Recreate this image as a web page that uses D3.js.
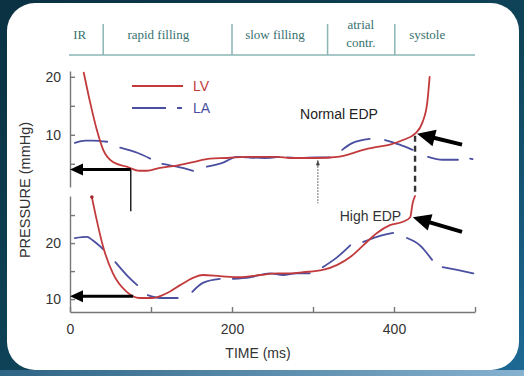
<!DOCTYPE html>
<html>
<head>
<meta charset="utf-8">
<script src="https://cdn.jsdelivr.net/npm/d3@7"></script>
<style>
  body { margin: 0; background: #0e3a4e; }
  svg { display: block; }
</style>
</head>
<body>
<script>
// ---- data (time in ms, pressure in mmHg) ----
const timeTicks = [0, 100, 200, 300, 400, 500];
const timeLabels = [0, 200, 400];
const upperTicks = [5, 10, 15, 20];
const upperLabels = [10, 20];
const lowerTicks = [10, 15, 20, 25];
const lowerLabels = [10, 20];

const phaseNames = [["IR"], ["rapid filling"], ["slow filling"], ["atrial", "contr."], ["systole"]];
const phaseCenters = [12, 109, 253, 359, 441];
const phaseBounds = [41, 200, 318, 401];

// normal EDP panel
const lvUpper = [[17,20.7],[25,15.5],[33,10.9],[41,7.4],[53,5.3],[70,4.5],[86,3.8],[95,3.8],[111,4.3],[132,4.7],
  [152,5.3],[173,5.9],[194,6.0],[219,6.2],[235,6.2],[256,6.2],[272,6.0],[305,6.0],[330,6.2],[346,6.7],[362,7.4],
  [379,7.9],[395,8.3],[411,9.1],[426,10.2],[435,12.1],[441,15.5],[444,20.0]];
const laUpper = [[6,8.6],[19,9.0],[28,9.0],[46,8.8],[54,null],[62,7.8],[83,6.9],[99,5.9],[106,null],[114,5.0],
  [132,4.5],[152,3.8],[160,null],[169,4.5],[189,5.2],[206,6.2],[219,6.1],[240,6.0],[258,6.2],[262,null],[268,6.1],
  [285,6.0],[303,6.1],[321,6.1],[328,null],[336,7.4],[349,8.6],[370,9.3],[380,null],[389,9.1],[407,8.3],[423,7.4],
  [432,null],[442,6.2],[460,5.7],[479,5.7],[488,null],[494,5.9],[497,5.8]];

// high EDP panel
const lvLower = [[27,28.2],[33,24.1],[41,19.3],[53,14.6],[70,11.3],[86,10.2],[102,10.2],[120,11.1],[136,12.5],
  [152,13.8],[164,14.3],[185,14.1],[210,13.9],[235,14.3],[256,14.6],[272,14.6],[288,14.8],[312,15.2],[330,16.1],
  [346,17.5],[362,19.6],[379,21.8],[395,23.2],[411,23.8],[420,24.6],[423,27.1],[426,28.4]];
const laLower = [[6,20.9],[21,21.1],[28,20.5],[41,18.9],[48,null],[56,16.6],[70,14.3],[83,12.5],[90,null],
  [96,10.7],[111,10.2],[133,10.2],[142,null],[151,11.3],[164,12.9],[185,13.6],[193,null],[201,13.6],[222,13.9],
  [247,14.6],[263,14.3],[280,14.6],[296,14.6],[304,null],[312,15.7],[330,17.5],[346,19.6],[354,null],[362,20.2],
  [379,21.1],[399,21.8],[408,null],[416,20.9],[432,19.6],[447,17.0],[454,null],[460,15.7],[478,15.2],[498,14.6]];

// annotation anchors [t, mmHg]
const minNormal = [75, 4.0];
const minHigh = [78, 10.5];
const edpNormal = [426, 10.2];
const edpHigh = [422, 24.6];
const arrowTailUp = [484, 8.3];
const arrowTailLo = [484, 22.0];
const dottedT = 306;

// ---- page ----
const W = 524, H = 376;
const RED = "#c23a3c", BLUE = "#4a4f9f", SANS = "'Liberation Sans', Arial, sans-serif";

const svg = d3.select("body").append("svg").attr("width", W).attr("height", H);
const defs = svg.append("defs");

const bg = defs.append("linearGradient").attr("id", "bg")
  .attr("x1", 0).attr("y1", 0).attr("x2", 1).attr("y2", 1);
bg.append("stop").attr("offset", "0%").attr("stop-color", "#0a3142");
bg.append("stop").attr("offset", "55%").attr("stop-color", "#0f4459");
bg.append("stop").attr("offset", "100%").attr("stop-color", "#1e6a96");
svg.append("rect").attr("width", W).attr("height", H).attr("fill", "url(#bg)");

const strip = defs.append("linearGradient").attr("id", "strip");
strip.append("stop").attr("offset", "0%").attr("stop-color", "#2e6484");
strip.append("stop").attr("offset", "100%").attr("stop-color", "#86b2d0");
svg.append("rect").attr("x", 0).attr("y", 370).attr("width", W).attr("height", 6).attr("fill", "url(#strip)");

svg.append("rect").attr("x", 7).attr("y", 3).attr("width", 512).attr("height", 367)
  .attr("rx", 28).attr("fill", "#fff");

// scales
const x = d3.scaleLinear().domain([0, 500]).range([70, 475]);
const yUp = d3.scaleLinear().domain([1, 21]).range([187, 71]);
const yLo = d3.scaleLinear().domain([7.7, 28.4]).range([312, 196]);

// phase header
const hdr = svg.append("g").attr("stroke", "#8ab6b3").attr("stroke-width", 1.5);
hdr.append("line").attr("x1", 69).attr("x2", 475).attr("y1", 55).attr("y2", 55);
hdr.selectAll(".sep").data(phaseBounds).enter().append("line")
  .attr("x1", d => x(d)).attr("x2", d => x(d)).attr("y1", 24).attr("y2", 55);

svg.append("g").selectAll("text").data(phaseNames).enter().append("text")
  .attr("x", (d, i) => x(phaseCenters[i]))
  .attr("text-anchor", "middle")
  .attr("font-family", "'Liberation Serif', 'Times New Roman', serif")
  .attr("font-size", 13)
  .attr("fill", "#37726f")
  .each(function(d) {
    const t = d3.select(this);
    const y0 = d.length > 1 ? 29 : 39;
    d.forEach((s, j) => t.append("tspan").attr("x", t.attr("x")).attr("y", y0 + j * 18).text(s));
  });

// axes
function styleAxis(g) {
  g.selectAll("path, line").attr("stroke", "#777").attr("stroke-width", 1.4);
  g.selectAll("text").attr("font-family", SANS).attr("font-size", 14).attr("fill", "#333");
}
svg.append("g").attr("transform", "translate(70,0)")
  .call(d3.axisLeft(yUp).tickValues(upperTicks).tickSize(-5).tickSizeOuter(0).tickPadding(9)
    .tickFormat(d => upperLabels.includes(d) ? d : ""))
  .call(styleAxis);
svg.append("g").attr("transform", "translate(70,0)")
  .call(d3.axisLeft(yLo).tickValues(lowerTicks).tickSize(-5).tickSizeOuter(0).tickPadding(9)
    .tickFormat(d => lowerLabels.includes(d) ? d : ""))
  .call(styleAxis);
svg.append("g").attr("transform", "translate(0,312)")
  .call(d3.axisBottom(x).tickValues(timeTicks).tickSize(-5).tickSizeOuter(0).tickPadding(12)
    .tickFormat(d => timeLabels.includes(d) ? d : ""))
  .call(styleAxis);

svg.append("text").attr("x", 258).attr("y", 358).attr("text-anchor", "middle")
  .attr("font-family", SANS).attr("font-size", 14).attr("fill", "#333").text("TIME (ms)");
svg.append("text").attr("transform", "translate(30,190) rotate(-90)").attr("text-anchor", "middle")
  .attr("font-family", SANS).attr("font-size", 14.5).attr("fill", "#333").text("PRESSURE (mmHg)");

// curves
function curve(data, yScale, color) {
  const line = d3.line()
    .defined(d => d[1] != null)
    .x(d => x(d[0])).y(d => yScale(d[1]))
    .curve(d3.curveMonotoneX);
  svg.append("path").datum(data).attr("d", line)
    .attr("fill", "none").attr("stroke", color).attr("stroke-width", 1.8)
    .attr("stroke-linecap", "round").attr("stroke-linejoin", "round");
}
curve(laUpper, yUp, BLUE);
curve(lvUpper, yUp, RED);
curve(laLower, yLo, BLUE);
curve(lvLower, yLo, RED);
svg.append("circle").attr("cx", x(lvLower[0][0])).attr("cy", yLo(lvLower[0][1])).attr("r", 1.8).attr("fill", "#a3262a");

// legend
const lg = svg.append("g").attr("font-family", SANS).attr("font-size", 14);
lg.append("line").attr("x1", 132).attr("x2", 183).attr("y1", 86).attr("y2", 86).attr("stroke", RED).attr("stroke-width", 1.8);
lg.append("text").attr("x", 193).attr("y", 91).attr("fill", RED).text("LV");
lg.append("line").attr("x1", 132).attr("x2", 183).attr("y1", 108).attr("y2", 108).attr("stroke", BLUE)
  .attr("stroke-width", 1.8).attr("stroke-dasharray", "34,11,5,100");
lg.append("text").attr("x", 193).attr("y", 113).attr("fill", BLUE).text("LA");

// annotations
const ann = svg.append("g");
function arrow(x1, y1, x2, y2, w, hl, hw, color) {
  const dx = x2 - x1, dy = y2 - y1, L = Math.hypot(dx, dy), ux = dx / L, uy = dy / L;
  const bx = x2 - ux * hl, by = y2 - uy * hl;
  ann.append("line").attr("x1", x1).attr("y1", y1).attr("x2", bx + ux * 2).attr("y2", by + uy * 2)
    .attr("stroke", color).attr("stroke-width", w);
  ann.append("path")
    .attr("d", `M${x2},${y2}L${bx - uy * hw / 2},${by + ux * hw / 2}L${bx + uy * hw / 2},${by - ux * hw / 2}Z`)
    .attr("fill", color);
}

// minimum pressure markers
ann.append("line").attr("x1", x(minNormal[0])).attr("x2", x(minNormal[0]))
  .attr("y1", yUp(minNormal[1])).attr("y2", yLo(25.7)).attr("stroke", "#222").attr("stroke-width", 1.5);
arrow(x(minNormal[0]), yUp(minNormal[1]), x(0), yUp(minNormal[1]), 3, 13, 12, "#000");
arrow(x(minHigh[0]), yLo(minHigh[1]), x(0), yLo(minHigh[1]), 3, 13, 12, "#000");

// dashed EDP line and dotted line
ann.append("line").attr("x1", x(edpNormal[0])).attr("x2", x(edpNormal[0]))
  .attr("y1", yUp(edpNormal[1]) + 2).attr("y2", yLo(28.6)).attr("stroke", "#333")
  .attr("stroke-width", 2.4).attr("stroke-dasharray", "6,4");
ann.append("line").attr("x1", x(dottedT)).attr("x2", x(dottedT))
  .attr("y1", yUp(5.6)).attr("y2", yLo(27.1)).attr("stroke", "#444")
  .attr("stroke-width", 1).attr("stroke-dasharray", "1.5,1.5");
arrow(x(dottedT), yUp(5.6) + 6, x(dottedT), yUp(5.6), 1, 5, 4, "#444");

// EDP arrows
arrow(x(arrowTailUp[0]), yUp(arrowTailUp[1]), x(edpNormal[0]) + 2, yUp(edpNormal[1]), 4, 18, 17, "#000");
arrow(x(arrowTailLo[0]), yLo(arrowTailLo[1]), x(edpHigh[0]) + 1, yLo(edpHigh[1]), 4, 18, 17, "#000");

ann.append("text").attr("x", x(284)).attr("y", yUp(12.8)).attr("font-family", SANS).attr("font-size", 14)
  .attr("fill", "#222").text("Normal EDP");
ann.append("text").attr("x", x(333)).attr("y", yLo(23.9)).attr("font-family", SANS).attr("font-size", 14)
  .attr("fill", "#333").text("High EDP");
</script>
</body>
</html>
